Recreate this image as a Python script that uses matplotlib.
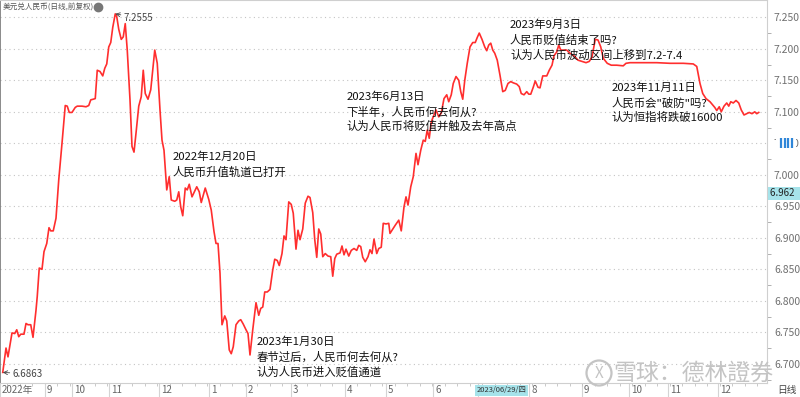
import matplotlib
matplotlib.use('Agg')
import matplotlib.pyplot as plt
import matplotlib.transforms as mtransforms
from matplotlib.patches import Ellipse, Rectangle

plt.rcParams['font.family'] = ['Noto Sans CJK SC', 'DejaVu Sans']

# 交易日序号 (横轴位置) 和 美元兑人民币收盘价
pos = [1.1, 2.4, 3.2, 4.8, 5.9, 6.7, 7.5, 8.3, 9.6, 10.4,
       11.2, 12.3, 13.2, 14.4, 14.9, 15.7, 16.8, 17.6, 18.7, 19.6,
       20.3, 21.3, 22.4, 23.5, 24.8, 26.1, 26.9, 27.7, 28.8, 30.1,
       30.9, 32.8, 34.4, 35.5, 36.3, 37.3, 38.1, 38.9, 40.0, 41.1,
       41.9, 42.7, 43.5, 44.3, 45.1, 46.1, 46.7, 47.5, 48.5, 49.3,
       50.1, 50.9, 52.0, 52.8, 53.6, 54.4, 55.5, 56.5, 57.3, 58.1,
       59.2, 60.3, 61.1, 61.9, 62.9, 64.0, 64.8, 65.6, 66.7, 67.7,
       68.5, 69.9, 70.7, 71.5, 72.3, 73.1, 74.1, 74.9, 75.7, 76.8,
       78.7, 79.7, 80.5, 82.1, 83.5, 84.5, 85.6, 86.4, 87.2, 88.0,
       88.8, 89.9, 90.7, 91.7, 92.5, 93.3, 94.4, 95.5, 96.3, 97.3,
       98.4, 99.2, 100.0, 101.1, 102.4, 103.5, 104.3, 105.1, 105.9, 106.9,
       108.0, 109.1, 109.9, 110.9, 111.7, 112.8, 113.6, 114.4, 115.5, 116.5,
       117.3, 118.4, 119.2, 120.0, 121.1, 122.1, 123.2, 124.0, 125.1, 125.9,
       126.7, 127.5, 128.3, 129.1, 130.1, 131.2, 132.3, 133.1, 133.9, 134.7,
       136.0, 136.8, 137.6, 138.4, 139.5, 140.5, 141.6, 142.7, 143.5, 144.3,
       145.1, 146.1, 147.2, 148.0, 148.8, 149.6, 150.7, 151.5, 152.5, 153.3,
       154.4, 155.5, 156.0, 156.8, 158.1, 159.5, 160.5, 161.6, 162.4, 163.2,
       164.3, 165.3, 166.4, 167.2, 168.3, 169.3, 170.1, 170.9, 171.7, 172.5,
       173.3, 174.4, 175.5, 176.5, 177.6, 178.7, 179.5, 180.5, 181.3, 182.4,
       183.5, 184.3, 185.1, 185.9, 186.9, 188.0, 189.1, 190.1, 190.9, 191.7,
       192.8, 193.9, 194.7, 195.5, 196.3, 197.1, 197.9, 198.9, 200.0, 201.1,
       202.1, 203.2, 204.3, 205.3, 206.7, 207.7, 208.5, 209.6, 210.7, 211.5,
       212.3, 213.3, 214.1, 215.2, 216.0, 217.1, 218.7, 219.7, 220.8, 221.6,
       222.7, 223.5, 224.3, 225.3, 226.7, 228.0, 229.6, 231.2, 232.8, 234.4,
       235.7, 236.8, 238.1, 239.2, 240.3, 241.3, 242.9, 244.5, 246.7, 249.3,
       250.4, 252.0, 254.7, 258.7, 262.7, 268.0, 273.3, 277.3, 278.7, 280.0,
       281.1, 282.4, 284.0, 285.9, 286.7, 287.7, 288.5, 289.6, 290.7, 291.5,
       292.3, 293.3, 294.4, 295.5, 296.5, 297.6, 298.7, 299.7, 300.8, 301.9,
       302.7, 303.5]

rate = [6.6863, 6.725, 6.711, 6.749, 6.748, 6.754, 6.743, 6.747, 6.747, 6.764,
        6.762, 6.762, 6.742, 6.785, 6.807, 6.852, 6.850, 6.878, 6.891, 6.916,
        6.911, 6.911, 6.931, 6.992, 7.050, 7.110, 7.109, 7.099, 7.099, 7.107,
        7.109, 7.109, 7.108, 7.110, 7.119, 7.120, 7.121, 7.166, 7.164, 7.157,
        7.169, 7.176, 7.203, 7.210, 7.234, 7.2555, 7.251, 7.231, 7.215, 7.219,
        7.240, 7.198, 7.119, 7.045, 7.036, 7.066, 7.109, 7.124, 7.166, 7.129,
        7.120, 7.135, 7.166, 7.198, 7.177, 7.103, 7.055, 7.039, 6.976, 6.997,
        6.960, 6.958, 6.960, 6.973, 6.949, 6.935, 6.979, 6.976, 6.985, 6.965,
        6.981, 6.973, 6.956, 6.979, 6.961, 6.944, 6.910, 6.891, 6.891, 6.844,
        6.762, 6.776, 6.768, 6.722, 6.716, 6.727, 6.762, 6.768, 6.770, 6.763,
        6.754, 6.748, 6.714, 6.754, 6.797, 6.777, 6.788, 6.790, 6.814, 6.814,
        6.818, 6.849, 6.866, 6.864, 6.856, 6.875, 6.903, 6.897, 6.957, 6.953,
        6.939, 6.882, 6.912, 6.897, 6.914, 6.955, 6.966, 6.964, 6.940, 6.897,
        6.869, 6.914, 6.906, 6.870, 6.875, 6.871, 6.870, 6.839, 6.867, 6.874,
        6.876, 6.887, 6.873, 6.882, 6.871, 6.880, 6.883, 6.880, 6.888, 6.886,
        6.869, 6.862, 6.870, 6.881, 6.875, 6.898, 6.875, 6.883, 6.885, 6.923,
        6.922, 6.923, 6.907, 6.912, 6.920, 6.928, 6.911, 6.949, 6.965, 6.952,
        6.981, 6.997, 7.034, 7.016, 7.039, 7.055, 7.053, 7.071, 7.058, 7.084,
        7.092, 7.103, 7.092, 7.098, 7.121, 7.127, 7.116, 7.127, 7.145, 7.156,
        7.150, 7.132, 7.120, 7.150, 7.177, 7.203, 7.210, 7.210, 7.218, 7.225,
        7.215, 7.203, 7.197, 7.206, 7.209, 7.198, 7.193, 7.182, 7.158, 7.132,
        7.134, 7.145, 7.148, 7.146, 7.144, 7.140, 7.129, 7.127, 7.132, 7.128,
        7.128, 7.139, 7.149, 7.139, 7.138, 7.157, 7.157, 7.166, 7.174, 7.189,
        7.195, 7.206, 7.198, 7.198, 7.198, 7.193, 7.189, 7.182, 7.180, 7.178,
        7.180, 7.187, 7.215, 7.214, 7.203, 7.185, 7.177, 7.174, 7.174, 7.173,
        7.177, 7.178, 7.178, 7.178, 7.178, 7.177, 7.177, 7.176, 7.172, 7.145,
        7.129, 7.121, 7.116, 7.107, 7.102, 7.108, 7.100, 7.109, 7.114, 7.109,
        7.116, 7.114, 7.118, 7.114, 7.103, 7.095, 7.097, 7.099, 7.097, 7.100,
        7.097, 7.099]

# 7月的标签被十字光标日期挡住
month_pos = [0, 18.0, 28.7, 43.6, 63.6, 83.6, 98.3, 116.4, 138.0, 154.4, 173.2,
             211.6, 232.8, 251.6, 267.2, 287.2]
month_labels = ['2022年', '9', '10', '11', '12', '1', '2', '3', '4', '5', '6',
                '8', '9', '10', '11', '12']
cursor_pos = 190.8
cursor_label = '2023/06/29/四'

y_ticks = [7.25, 7.20, 7.15, 7.10, 7.05, 7.00, 6.95, 6.90, 6.85, 6.80, 6.75, 6.70]
last_label = '6.962'

# 标注: (横轴位置, 数值, 文本行)
notes = [
    (69.2, 7.028, ['2022年12月20日', '人民币升值轨道已打开']),
    (102.7, 6.735, ['2023年1月30日', '春节过后，人民币何去何从?', '认为人民币进入贬值通道']),
    (138.7, 7.124, ['2023年6月13日', '下半年，人民币何去何从?', '认为人民币将贬值并触及去年高点']),
    (204.0, 7.238, ['2023年9月3日', '人民币贬值结束了吗?', '认为人民币波动区间上移到7.2-7.4']),
    (244.7, 7.138, ['2023年11月11日', '人民币会"破防"吗?', '认为恒指将跌破16000']),
]

fig = plt.figure(figsize=(8, 3.97), dpi=100)
ax = fig.add_axes([0.0, 1 - 383 / 397, 767 / 800, 383 / 397])

ax.plot(pos, rate, color='#ff2e2e', lw=1.2)
ax.set_xlim(0, 306.8)
ax.set_ylim(6.6695, 7.2775)

for v in y_ticks:
    ax.axhline(v, color='#c4c4c4', lw=0.8, ls=(0, (1, 3)), zorder=0)

ax.yaxis.tick_right()
ax.set_yticks(y_ticks)
ax.set_yticklabels(['%.3f' % v for v in y_ticks])
ax.set_yticks([v - 0.025 for v in y_ticks], minor=True)
ax.tick_params(axis='y', which='major', length=0, pad=5, labelsize=7.5, labelcolor='#707070')
ax.tick_params(axis='y', which='minor', length=3, color='#b0b0b0', width=0.7)

ax.set_xticks(month_pos + [cursor_pos + 0.4])
ax.set_xticklabels([])
ax.set_xticks([p for p in range(3, 306, 5)], minor=True)
ax.tick_params(axis='x', which='major', length=10, color='#d4d4d4', width=0.8)
ax.tick_params(axis='x', which='minor', length=2, color='#c0c0c0', width=0.6)

for s in ['right', 'bottom', 'top']:
    ax.spines[s].set_color('#cfcfcf')
    ax.spines[s].set_linewidth(0.8)
ax.spines['left'].set_color('#777777')
ax.spines['left'].set_linewidth(1.2)

trans = mtransforms.blended_transform_factory(ax.transData, ax.transAxes)
for p, lab in zip(month_pos, month_labels):
    ax.annotate(lab, xy=(p, -0.019), xycoords=trans, xytext=(1.5, 0), textcoords='offset points',
                ha='left', va='center', fontsize=7, color='#666666', annotation_clip=False)
ax.annotate(cursor_label, xy=(cursor_pos, -0.019), xycoords=trans, ha='left', va='center',
            fontsize=5.4, color='#333333', annotation_clip=False,
            bbox=dict(boxstyle='square,pad=0.2', fc='#a6e3ea', ec='none'))
fig.text(777 / 800, 1 - 390 / 397, '日线', fontsize=7, color='#444444', va='center')

# 标题
ax.text(0.004, 1 - 7 / 383, '美元兑人民币(日线,前复权)', transform=ax.transAxes,
        fontsize=5.5, color='#555555', va='center')
ax.plot([98 / 767], [1 - 7 / 383], 'o', ms=6, color='#777777', transform=ax.transAxes, clip_on=False)

# 最高 / 最低
ax.annotate('7.2555', xy=(46.1, 7.2555), xytext=(6, -3), textcoords='offset points',
            fontsize=7, color='#444444', va='center',
            arrowprops=dict(arrowstyle='->', color='#444444', lw=0.6, shrinkA=0, shrinkB=0))
ax.annotate('6.6863', xy=(1.1, 6.6863), xytext=(7, -1), textcoords='offset points',
            fontsize=7, color='#444444', va='center',
            arrowprops=dict(arrowstyle='->', color='#444444', lw=0.6, shrinkA=0, shrinkB=0))

for x, v, lines in notes:
    for i, line in enumerate(lines):
        ax.annotate(line, xy=(x, v), xytext=(0, -10.8 * i), textcoords='offset points',
                    fontsize=8.2, color='#111111', ha='left', va='center')

# 右侧最新价
ax.annotate(last_label + '  ', xy=(1.0, 6.971), xycoords=('axes fraction', 'data'), xytext=(2, 0),
            textcoords='offset points', fontsize=7, color='#222222', va='center',
            annotation_clip=False, bbox=dict(boxstyle='square,pad=0.15', fc='#a6e3ea', ec='none'))

# 右侧小图标 (盖住 7.050)
rtrans = mtransforms.blended_transform_factory(ax.transAxes, ax.transData)
ax.add_patch(Rectangle((1.012, 7.041), 0.026, 0.018, transform=rtrans, fc='white', ec='none',
                       clip_on=False, zorder=5))
ax.plot([1.018, 1.023, 1.028, 1.033], [7.05] * 4, '|', ms=7, mew=1.6, color='#2f86d8',
        transform=rtrans, clip_on=False, zorder=6)

# 水印
fig.patches.append(Ellipse((599 / 800, 1 - 373 / 397), 25 / 800, 25 / 397, transform=fig.transFigure,
                           fill=False, ec='#c4c4c4', lw=1.6))
fig.text(599 / 800, 1 - 373 / 397, 'X', fontsize=11, color='#c4c4c4', ha='center', va='center',
         style='italic')
fig.text(613 / 800, 1 - 373 / 397, '雪球：德林證券', fontsize=16.5, color='#c4c4c4', va='center')

fig.savefig('out.png', dpi=100)
